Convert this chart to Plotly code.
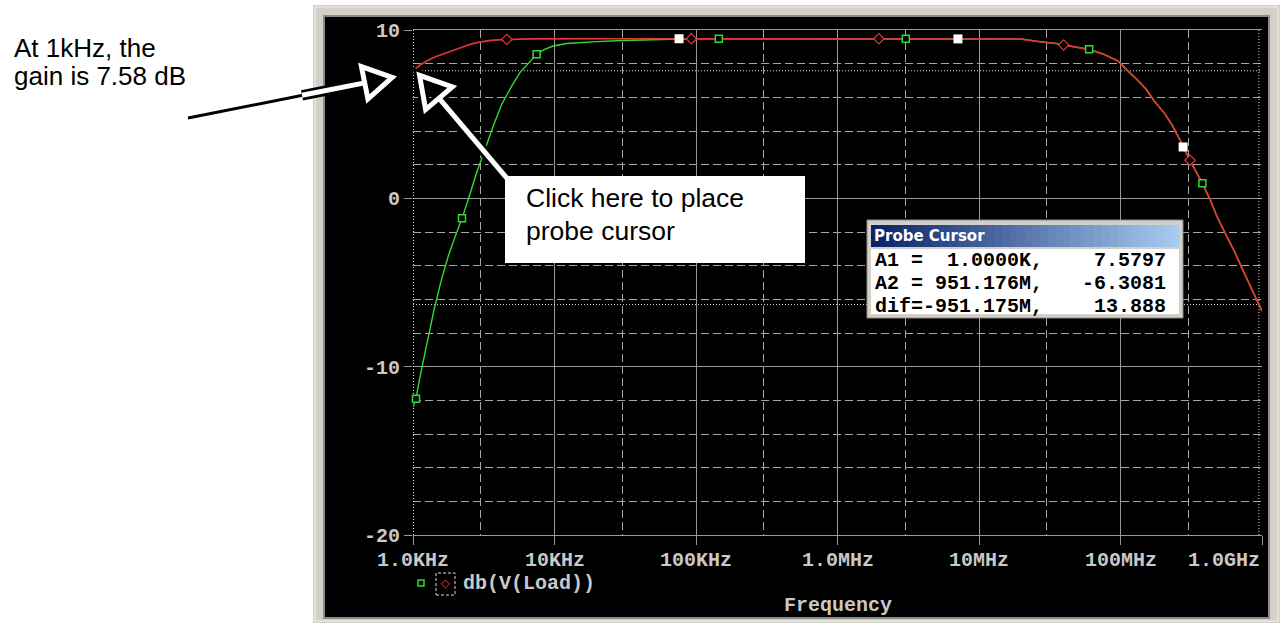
import numpy as np
import plotly.graph_objects as go

# ------------------------------------------------------------------ data
# Red trace, low-frequency edge (Hz, dB)
red_low_freq = [1.0e3, 1.12e3, 1.26e3, 1.41e3, 1.58e3, 1.78e3, 2.0e3, 2.24e3,
                2.51e3, 2.82e3, 3.16e3, 3.55e3, 4.0e3, 4.6e3, 5.62e3, 7.08e3,
                1.0e4, 3.0e4]
red_low_db = [7.5797, 7.92, 8.18, 8.38, 8.53, 8.69, 8.86, 9.03,
              9.14, 9.25, 9.33, 9.38, 9.41, 9.44, 9.46, 9.47,
              9.48, 9.48]

# Green trace, low-frequency edge (Hz, dB)
green_low_freq = [1.0e3, 1.05e3, 1.12e3, 1.26e3, 1.41e3, 1.58e3, 1.78e3, 2.0e3,
                  2.22e3, 2.46e3, 2.82e3, 3.23e3, 3.69e3, 4.24e3, 4.98e3, 5.7e3,
                  6.71e3, 7.48e3, 8.5e3, 9.8e3, 1.22e4, 1.58e4, 1.99e4, 3.0e4,
                  4.5e4, 6.04e4]
green_low_db = [-12.4, -11.9, -10.6, -8.5, -6.6, -4.9, -3.4, -2.2,
                -1.19, -0.06, 1.53, 2.91, 4.3, 5.59, 6.67, 7.47,
                8.16, 8.56, 8.85, 9.05, 9.2, 9.27, 9.31, 9.38,
                9.42, 9.45]

# Mid-band and high-frequency roll-off, common to both traces (Hz, dB)
shared_freq = [7.59e4, 9.28e4, 1.45e5, 5.0e5, 1.96e6, 3.04e6, 7.1e6, 1.5e7, 2.0e7,
               2.5e7, 3.0e7, 3.5e7, 3.97e7, 5.3e7, 6.0e7, 7.6e7, 9.6e7, 1.13e8,
               1.29e8, 1.52e8, 1.73e8, 2.03e8, 2.3e8, 2.64e8, 2.77e8, 3.1e8,
               3.79e8, 4.29e8, 4.79e8, 5.62e8, 6.45e8, 7.38e8, 8.45e8,
               9.51176e8, 1.0e9]
shared_db = [9.48, 9.48, 9.48, 9.48, 9.48, 9.48, 9.47, 9.47, 9.46,
             9.34, 9.28, 9.2, 9.11, 8.95, 8.85, 8.56, 8.16, 7.56,
             7.11, 6.48, 5.78, 5.09, 4.4, 3.45, 3.05, 2.26,
             0.89, -0.06, -1.05, -2.24, -3.23, -4.32, -5.41,
             -6.3081, -6.7]

# Symbol positions along the traces (Hz)
red_marker_freq = [4.6e3, 9.28e4, 1.96e6, 3.97e7, 3.1e8]
green_marker_freq = [1.05e3, 2.22e3, 7.48e3, 1.45e5, 3.04e6, 6.0e7, 3.79e8]
white_marker_freq = [7.59e4, 7.1e6, 2.77e8]

# Probe cursors (Hz, dB)
cursor_freq = [1.0e3, 951.176e6]
cursor_db = [7.5797, -6.3081]

x_tick_vals = [1e3, 1e4, 1e5, 1e6, 1e7, 1e8, 1e9]
x_tick_text = ["1.0KHz", "10KHz", "100KHz", "1.0MHz", "10MHz", "100MHz", "1.0GHz"]
x_minor_vals = [3e3, 3e4, 3e5, 3e6, 3e7, 3e8]
y_tick_vals = [10, 0, -10, -20]
y_tick_text = ["10", "0", "-10", "-20"]

probe_rows = [("A1 =  1.0000K,", "7.5797"),
              ("A2 = 951.176M,", "-6.3081"),
              ("dif=-951.175M,", "13.888")]

# ------------------------------------------------------------------ styling
W, H = 1280, 623
PL, PR, PT, PB = 413, 1262, 30, 535          # plot area in pixels
LABEL = "#c8c8c8"
GRID = "#9a9a9a"
MINOR_GRID = "#a6a6a6"
RED = "#e23636"
GREEN = "#30dc30"
MONO = "Liberation Mono"
SANS = "Liberation Sans"

red_freq = red_low_freq + shared_freq
red_db = red_low_db + shared_db
green_freq = green_low_freq + shared_freq
green_db = green_low_db + shared_db
red_lookup = dict(zip(red_freq, red_db))
green_lookup = dict(zip(green_freq, green_db))


def px(x):
    return (x - PL) / (PR - PL)


def py(y):
    return (PB - y) / (PB - PT)


def rect(x0, y0, x1, y1, fill=None, line=None, width=1, dash=None, layer="above"):
    ln = dict(color=line or "rgba(0,0,0,0)", width=width if line else 0)
    if dash:
        ln["dash"] = dash
    return dict(type="rect", xref="paper", yref="paper", layer=layer,
                x0=px(x0), x1=px(x1), y0=py(y1), y1=py(y0),
                fillcolor=fill or "rgba(0,0,0,0)", line=ln)


def path(points, line, width, fill="rgba(0,0,0,0)", closed=True):
    p = "M " + " L ".join(f"{px(x):.5f},{py(y):.5f}" for x, y in points)
    if closed:
        p += " Z"
    return dict(type="path", xref="paper", yref="paper", path=p, layer="above",
                fillcolor=fill, line=dict(color=line, width=width))


def seg(x0, y0, x1, y1, color, width):
    return dict(type="line", xref="paper", yref="paper", layer="above",
                x0=px(x0), y0=py(y0), x1=px(x1), y1=py(y1),
                line=dict(color=color, width=width))


def hollow_arrow(tip, tail, head_len, head_half, inset=7.0):
    """Outlined arrow: white stroke edged in black, open triangular head."""
    tip = np.array(tip, float)
    tail = np.array(tail, float)
    d = (tail - tip) / np.linalg.norm(tail - tip)
    n = np.array([-d[1], d[0]])
    apex = tip + d * inset
    base = apex + d * head_len
    tri = [apex, base + n * head_half, base - n * head_half]
    shaft = [base, tail]
    out = []
    for color, w in (("black", 10.5), ("white", 5)):
        out.append(path(shaft, color, w, closed=False))
        out.append(path(tri, color, w))
    return out


def label(x, y, text, size, color, family, xanchor="left", bold=False):
    return dict(xref="paper", yref="paper", x=px(x), y=py(y), text=text,
                showarrow=False, xanchor=xanchor, yanchor="middle",
                font=dict(family=family, size=size, color=color,
                          weight="bold" if bold else "normal"))


fig = go.Figure()

# probe cursor lines
for f in cursor_freq:
    fig.add_trace(go.Scatter(x=[f, f], y=[-20, 10], mode="lines",
                             line=dict(color="#d8d8d8", width=2 if f == cursor_freq[0] else 1,
                                       dash="1px,2px"),
                             hoverinfo="skip", showlegend=False))
for v in cursor_db:
    fig.add_trace(go.Scatter(x=[x_tick_vals[0], x_tick_vals[-1]], y=[v, v], mode="lines",
                             line=dict(color="#d8d8d8", width=1, dash="1px,2px"),
                             hoverinfo="skip", showlegend=False))

# traces
fig.add_trace(go.Scatter(x=green_freq, y=green_db, mode="lines",
                         line=dict(color=GREEN, width=1.4), hoverinfo="skip", showlegend=False))
fig.add_trace(go.Scatter(x=red_freq, y=red_db, mode="lines",
                         line=dict(color=RED, width=1.7), hoverinfo="skip", showlegend=False))

# trace symbols
fig.add_trace(go.Scatter(x=green_marker_freq, y=[green_lookup[f] for f in green_marker_freq],
                         mode="markers", hoverinfo="skip", showlegend=False,
                         marker=dict(symbol="square", size=7, color="black",
                                     line=dict(color=GREEN, width=1.5)), cliponaxis=False))
fig.add_trace(go.Scatter(x=red_marker_freq, y=[red_lookup[f] for f in red_marker_freq],
                         mode="markers", hoverinfo="skip", showlegend=False,
                         marker=dict(symbol="diamond", size=8, color="black",
                                     line=dict(color=RED, width=1.2)), cliponaxis=False))
fig.add_trace(go.Scatter(x=white_marker_freq, y=[red_lookup[f] for f in white_marker_freq],
                         mode="markers", hoverinfo="skip", showlegend=False,
                         marker=dict(symbol="square", size=9, color="white",
                                     line=dict(width=0)), cliponaxis=False))

shapes = []
# window frame
shapes.append(rect(313, 5, 1280, 623, fill="#d4d0c8", layer="below"))
shapes.append(rect(315, 7, 1278, 621, line="#f4f2ee", width=1, layer="below"))
shapes.append(rect(323, 15, 1270, 619, fill="#8a8a8a", layer="below"))
shapes.append(rect(325, 17, 1268, 617, fill="black", layer="below"))

# legend symbols
shapes.append(rect(418, 580, 424, 586, line=GREEN, width=1.5))
shapes.append(rect(436, 573, 455, 595, line="#d8d8d8", width=1, dash="3px,2px"))
shapes.append(path([(445.5, 580), (449.5, 584), (445.5, 588), (441.5, 584)], RED, 1, fill="black"))

# call-out arrows
shapes.append(seg(188, 118, 304, 95, "black", 3))
shapes += hollow_arrow((399, 76), (302, 95.3), 28, 16.5)
shapes += hollow_arrow((415, 70), (522, 196), 30, 17.5)
shapes.append(rect(505, 176, 805, 263, fill="white"))

# probe cursor window
shapes.append(rect(867, 220, 1183, 318, fill="#d4d0c8", line="#8c8c8c", width=1))
x_strips = np.linspace(871, 1179, 41)
c0 = np.array([10, 36, 106])
c1 = np.array([166, 202, 240])
for i in range(40):
    t = i / 39
    c = (c0 + (c1 - c0) * t).astype(int)
    shapes.append(rect(x_strips[i], 225, x_strips[i + 1] + 0.6, 247,
                       fill=f"rgb({c[0]},{c[1]},{c[2]})"))
shapes.append(rect(871, 249, 1179, 314, fill="white"))

annotations = []
for v, t in zip(x_tick_vals, x_tick_text):
    anchor = "right" if v == x_tick_vals[-1] else "center"
    annotations.append(dict(xref="x", yref="paper", x=np.log10(v), y=py(560), text=t,
                            showarrow=False, xanchor=anchor, yanchor="middle",
                            font=dict(family=MONO, size=20, color=LABEL, weight="bold")))
annotations.append(label(837.5, 605, "Frequency", 20, LABEL, MONO, "center", True))
annotations.append(label(461, 583, "db(V(Load))", 20, LABEL, MONO, "left", True))

annotations.append(label(12, 47.5, "At 1kHz, the", 26, "black", SANS))
annotations.append(label(12, 76, "gain is 7.58 dB", 26, "black", SANS))
annotations.append(label(524, 198.5, "Click here to place", 26.5, "black", SANS))
annotations.append(label(524, 231, "probe cursor", 26.5, "black", SANS))

annotations.append(label(872, 236, "Probe Cursor", 15, "white", "DejaVu Sans", "left", True))
for (left, right), yc in zip(probe_rows, [260, 283.5, 306.5]):
    annotations.append(label(873, yc, left.replace(" ", "\u00a0"), 20, "black", MONO, "left", True))
    annotations.append(label(1168, yc, right, 20, "black", MONO, "right", True))

fig.update_layout(
    width=W, height=H,
    margin=dict(l=PL, r=W - PR, t=PT, b=H - PB, pad=0),
    paper_bgcolor="white", plot_bgcolor="black",
    showlegend=False, hovermode=False,
    shapes=shapes, annotations=annotations,
    xaxis=dict(type="log", range=[3, 9], tickvals=x_tick_vals, showticklabels=False,
               ticks="outside", ticklen=9, tickcolor=GRID, tickwidth=1,
               showgrid=True, gridcolor=GRID, gridwidth=1,
               minor=dict(tickvals=x_minor_vals, showgrid=True, gridcolor=MINOR_GRID,
                          gridwidth=1, griddash="8px,4px", ticks=""),
               showline=True, mirror=True, linecolor=GRID, linewidth=1, zeroline=False),
    yaxis=dict(range=[-20, 10], tickvals=y_tick_vals, ticktext=y_tick_text,
               ticks="outside", ticklen=8, tickcolor=GRID, tickwidth=1,
               tickfont=dict(family=MONO, size=20, color=LABEL, weight="bold"),
               showgrid=True, gridcolor=GRID, gridwidth=1,
               minor=dict(dtick=2, tick0=0, showgrid=True, gridcolor=MINOR_GRID,
                          gridwidth=1, griddash="8px,4px", ticks=""),
               showline=False, zeroline=False),
)

fig.write_html("out.html", post_script="document.body.style.margin='0';")
